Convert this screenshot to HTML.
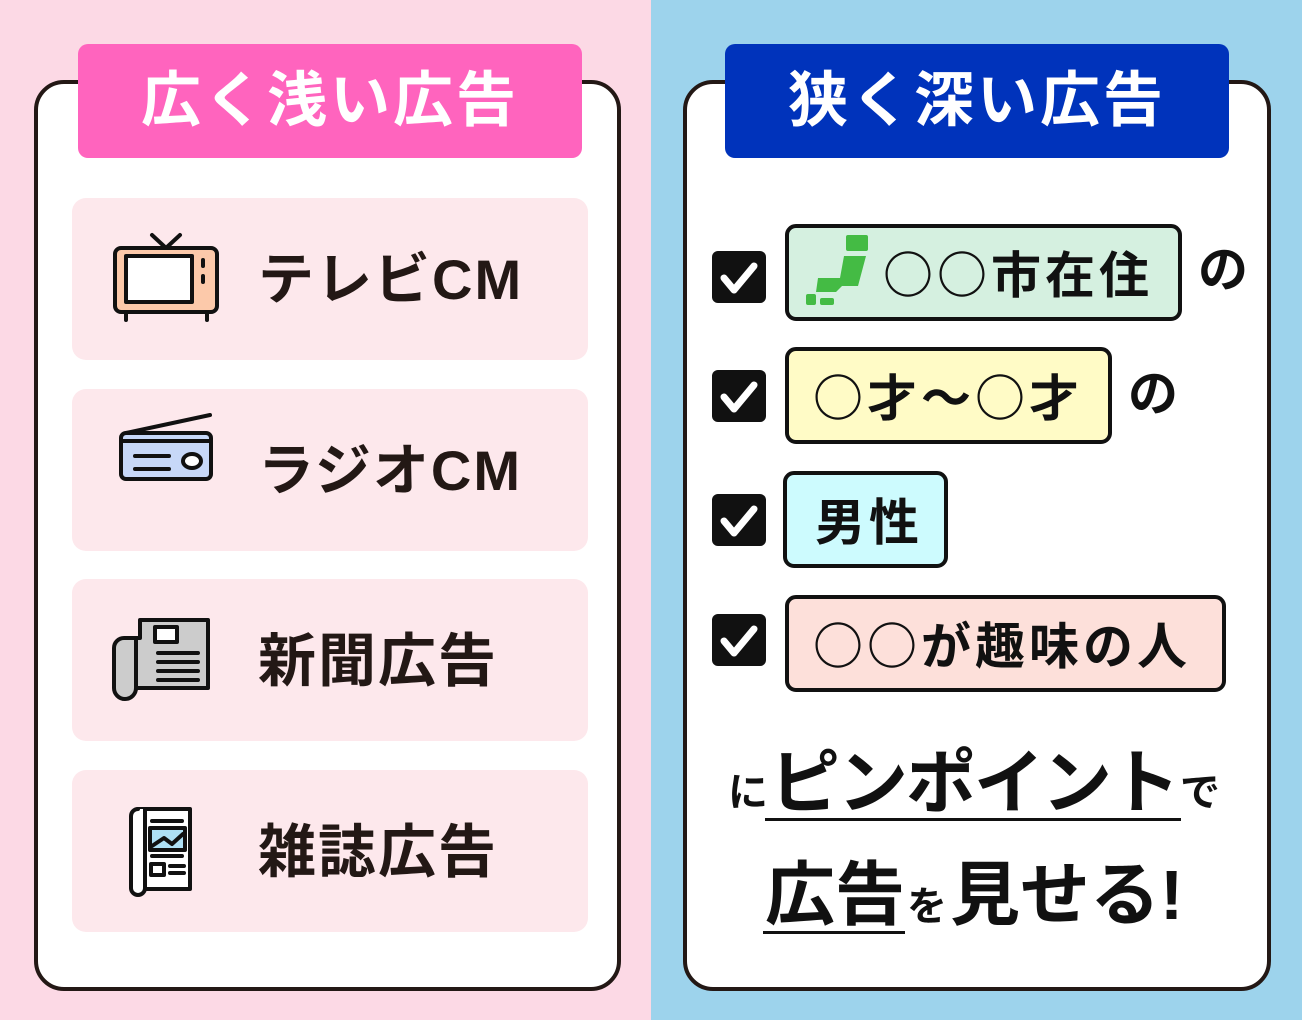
<!DOCTYPE html>
<html><head><meta charset="utf-8"><style>
*{margin:0;padding:0;box-sizing:border-box}
body{width:1302px;height:1020px;position:relative;overflow:hidden;font-family:"Liberation Sans","Noto Sans CJK JP",sans-serif;font-weight:bold;color:#231815}
.a{position:absolute}
.t{position:absolute;line-height:1;white-space:nowrap}
.card{position:absolute;background:#fff;border:4px solid #231815;border-radius:30px}
.hd{position:absolute;border-radius:10px;color:#fff;font-size:60px;text-align:center;line-height:114px;letter-spacing:3px}
.it{position:absolute;left:72px;width:516px;height:162px;background:#fde8ec;border-radius:14px}
.itx{position:absolute;left:258px;font-size:58px;line-height:1;letter-spacing:2px}
.cb{position:absolute;left:712px;width:54px;height:52px;background:#111;border-radius:6px}
.bx{position:absolute;border:4px solid #111;border-radius:11px;font-size:50px;line-height:88px;padding-left:24px;letter-spacing:4px;color:#111;font-family:"Noto Sans CJK JP",sans-serif;white-space:nowrap}
</style></head><body>
<div class="a" style="left:0;top:0;width:651px;height:1020px;background:#fcd9e5"></div>
<div class="a" style="left:651px;top:0;width:651px;height:1020px;background:#9dd3ec"></div>

<div class="card" style="left:34px;top:80px;width:587px;height:911px"></div>
<div class="hd" style="left:78px;top:44px;width:504px;height:114px;background:#ff64be">広く浅い広告</div>
<div class="it" style="top:198px"></div>
<div class="it" style="top:389px"></div>
<div class="it" style="top:579px"></div>
<div class="it" style="top:770px"></div>
<div class="itx" style="top:252px;font-size:56px">テレビCM</div>
<div class="itx" style="top:443px;font-size:56px">ラジオCM</div>
<div class="itx" style="top:633px">新聞広告</div>
<div class="itx" style="top:824px">雑誌広告</div>

<svg class="a" style="left:100px;top:225px" width="130" height="680" viewBox="0 0 130 680">
<g stroke="#111" stroke-width="4" stroke-linecap="round" stroke-linejoin="round">
<path d="M52 10 L66 23 L80 10" fill="none"/>
<rect x="15" y="23" width="102" height="64" rx="6" fill="#fcc9aa"/>
<rect x="26" y="31" width="66" height="46" fill="#fff"/>
<path d="M103 35v6M103 51v6" />
<path d="M26 87v8M107 87v8"/>
<path d="M26 208 L110 190" fill="none"/>
<rect x="21" y="208" width="90" height="46" rx="5" fill="#c7d8f8"/>
<path d="M23 216h86" />
<path d="M35 231h34M35 244h34"/>
<ellipse cx="92" cy="236" rx="9" ry="7" fill="#fff"/>
<path d="M40 395 h68 v68 h-72 a10 10 0 0 1 -22 0 v-40 a10 10 0 0 1 10 -10 h16 z" fill="#ccc"/>
<path d="M36 415 v48" fill="none"/>
<rect x="55" y="402" width="22" height="15" fill="#fff"/>
<path d="M58 428h40M58 437h40M58 446h40M58 455h40"/>
<path d="M38 584 h52 v80 h-52 z" fill="#fff"/>
<path d="M38 584 a7 7 0 0 0 -7 7 v72 a7 7 0 0 0 14 0 v-79" fill="#fff"/>
<path d="M52 596h30M52 631h30"/>
<rect x="50" y="603" width="35" height="22" fill="#aee0f5"/>
<path d="M52 621l12-8 8 6 11-10" fill="none"/>
<rect x="51" y="639" width="13" height="11" fill="#fff"/>
<path d="M70 641h14M70 648h14"/>
</g></svg>

<div class="card" style="left:683px;top:80px;width:588px;height:911px"></div>
<div class="hd" style="left:725px;top:44px;width:504px;height:114px;background:#0033bb">狭く深い広告</div>

<div class="cb" style="top:251px"></div>
<div class="cb" style="top:370px"></div>
<div class="cb" style="top:494px"></div>
<div class="cb" style="top:614px"></div>
<svg class="a" style="left:712px;top:251px" width="54" height="420" viewBox="0 0 54 420">
<g fill="none" stroke="#fff" stroke-width="7" stroke-linecap="round" stroke-linejoin="round">
<path d="M12 27l10 12 20-24"/><path d="M12 146l10 12 20-24"/><path d="M12 270l10 12 20-24"/><path d="M12 390l10 12 20-24"/>
</g></svg>

<div class="bx" style="left:785px;top:224px;width:397px;height:97px;background:#d5f0e0;padding-left:94px">○○市在住</div>
<svg class="a" style="left:798px;top:232px" width="80" height="80" viewBox="0 0 80 80">
<g fill="#44bb44"><rect x="48" y="3" width="22" height="16" rx="2"/><path d="M46 24h22l-8 30h-16l-6 6h-20l2-14h22z"/><rect x="8" y="62" width="10" height="11" rx="2"/><rect x="22" y="66" width="14" height="7" rx="2"/></g></svg>
<div class="bx" style="left:785px;top:347px;width:327px;height:97px;background:#fffbc6">○才～○才</div>
<div class="bx" style="left:783px;top:471px;width:165px;height:97px;background:#cdfbfe;padding-left:28px">男性</div>
<div class="bx" style="left:785px;top:595px;width:441px;height:97px;background:#fde0da">○○が趣味の人</div>
<div class="t" style="left:1198px;top:245px;font-size:50px;color:#111">の</div>
<div class="t" style="left:1128px;top:369px;font-size:50px;color:#111">の</div>

<div class="t" style="left:728px;top:773px;font-size:40px;color:#111">に</div>
<div class="t" style="left:770px;top:748px;font-size:70px;color:#111;letter-spacing:-2px">ピンポイント</div>
<div class="t" style="left:1180px;top:773px;font-size:40px;color:#111">で</div>
<div class="a" style="left:765px;top:818px;width:416px;height:3px;background:#111"></div>
<div class="t" style="left:765px;top:860px;font-size:70px;color:#111">広告</div>
<div class="t" style="left:907px;top:887px;font-size:40px;color:#111">を</div>
<div class="t" style="left:950px;top:860px;font-size:70px;color:#111">見せる!</div>
<div class="a" style="left:763px;top:931px;width:142px;height:3px;background:#111"></div>
</body></html>
